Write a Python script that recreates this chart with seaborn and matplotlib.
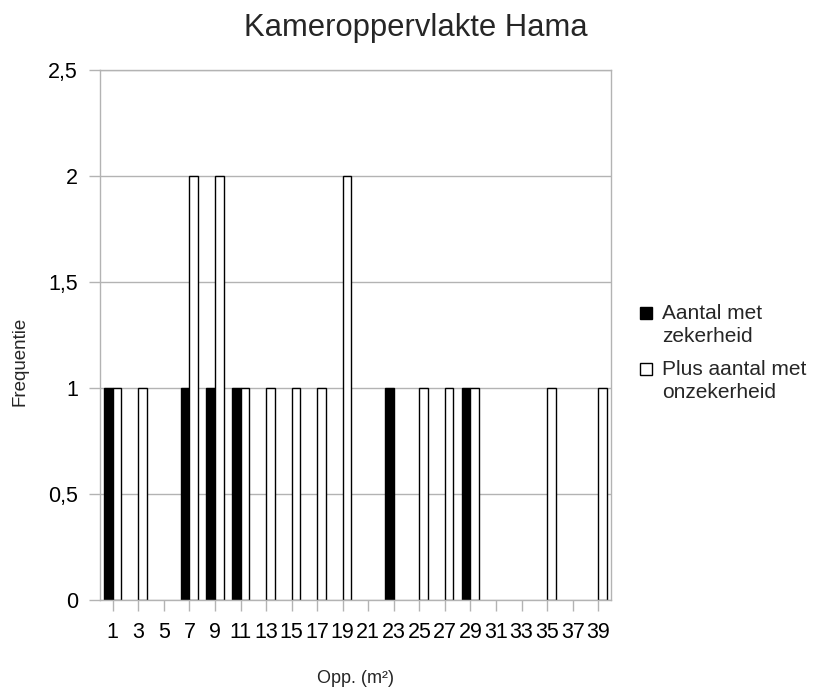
import matplotlib
matplotlib.use("Agg")
import matplotlib.pyplot as plt
from matplotlib.patches import Rectangle
from matplotlib.ticker import FuncFormatter
import pandas as pd
import seaborn as sns

# data: oppervlakte-klassen en frequenties
klassen = [str(k) for k in range(1, 40, 2)]
zeker = [1, 0, 0, 1, 1, 1, 0, 0, 0, 0, 0, 1, 0, 0, 1, 0, 0, 0, 0, 0]
onzeker = [1, 1, 0, 2, 2, 1, 1, 1, 1, 2, 0, 0, 1, 1, 1, 0, 0, 1, 0, 1]
reeks_namen = ["Aantal met\nzekerheid", "Plus aantal met\nonzekerheid"]
kleuren = ["black", "white"]

df = pd.DataFrame({
    "klasse": klassen * 2,
    "frequentie": zeker + onzeker,
    "reeks": [reeks_namen[0]] * len(klassen) + [reeks_namen[1]] * len(klassen),
})

sns.set_theme(style="white")
plt.rcParams["font.family"] = ["Liberation Sans", "DejaVu Sans"]

W, H = 815, 693
fig = plt.figure(figsize=(W / 100, H / 100), dpi=100)
ax = fig.add_axes([100 / W, 93 / H, 511 / W, 530 / H])

sns.barplot(data=df, x="klasse", y="frequentie", hue="reeks",
            palette=kleuren, edgecolor="black", linewidth=1,
            width=0.67, gap=0, saturation=1, ax=ax, legend=False)

# lege balken niet tekenen (geen lijntje op de nul-as)
for p in ax.patches:
    if p.get_height() == 0:
        p.set_visible(False)

ax.set_ylim(0, 2.5)
ax.set_yticks([0, 0.5, 1, 1.5, 2, 2.5])
ax.yaxis.set_major_formatter(FuncFormatter(lambda v, p: f"{v:g}".replace(".", ",")))
ax.set_xlim(-0.5, len(klassen) - 0.5)

ax.grid(axis="y", color="#b3b3b3", linewidth=1)
ax.set_axisbelow(True)
for s in ax.spines.values():
    s.set_color("#b3b3b3")
    s.set_linewidth(1)
ax.tick_params(axis="both", which="both", length=8, width=1, color="#b3b3b3",
               labelsize=15.5, labelcolor="black", pad=8, direction="out")
ax.tick_params(axis="x", bottom=True)
ax.tick_params(axis="y", left=True)

ax.set_xlabel("Opp. (m²)", fontsize=13, labelpad=19)
ax.set_ylabel("Frequentie", fontsize=13.5)
ax.yaxis.set_label_coords(-0.139, 0.45)
fig.text(416 / W, 1 - 28 / H, "Kameroppervlakte Hama", ha="center", va="center", fontsize=22.3)

# legenda: vierkantje bij de eerste tekstregel
legenda_y = [307, 363]
for naam, kleur, y in zip(reeks_namen, kleuren, legenda_y):
    fig.patches.append(Rectangle((640 / W, 1 - (y + 12) / H), 12 / W, 12 / H,
                                 transform=fig.transFigure, facecolor=kleur,
                                 edgecolor="black", linewidth=1))
    fig.text(662 / W, 1 - (y - 3) / H, naam, ha="left", va="top",
             fontsize=15, linespacing=1.3)

fig.savefig("out.png", dpi=100)
